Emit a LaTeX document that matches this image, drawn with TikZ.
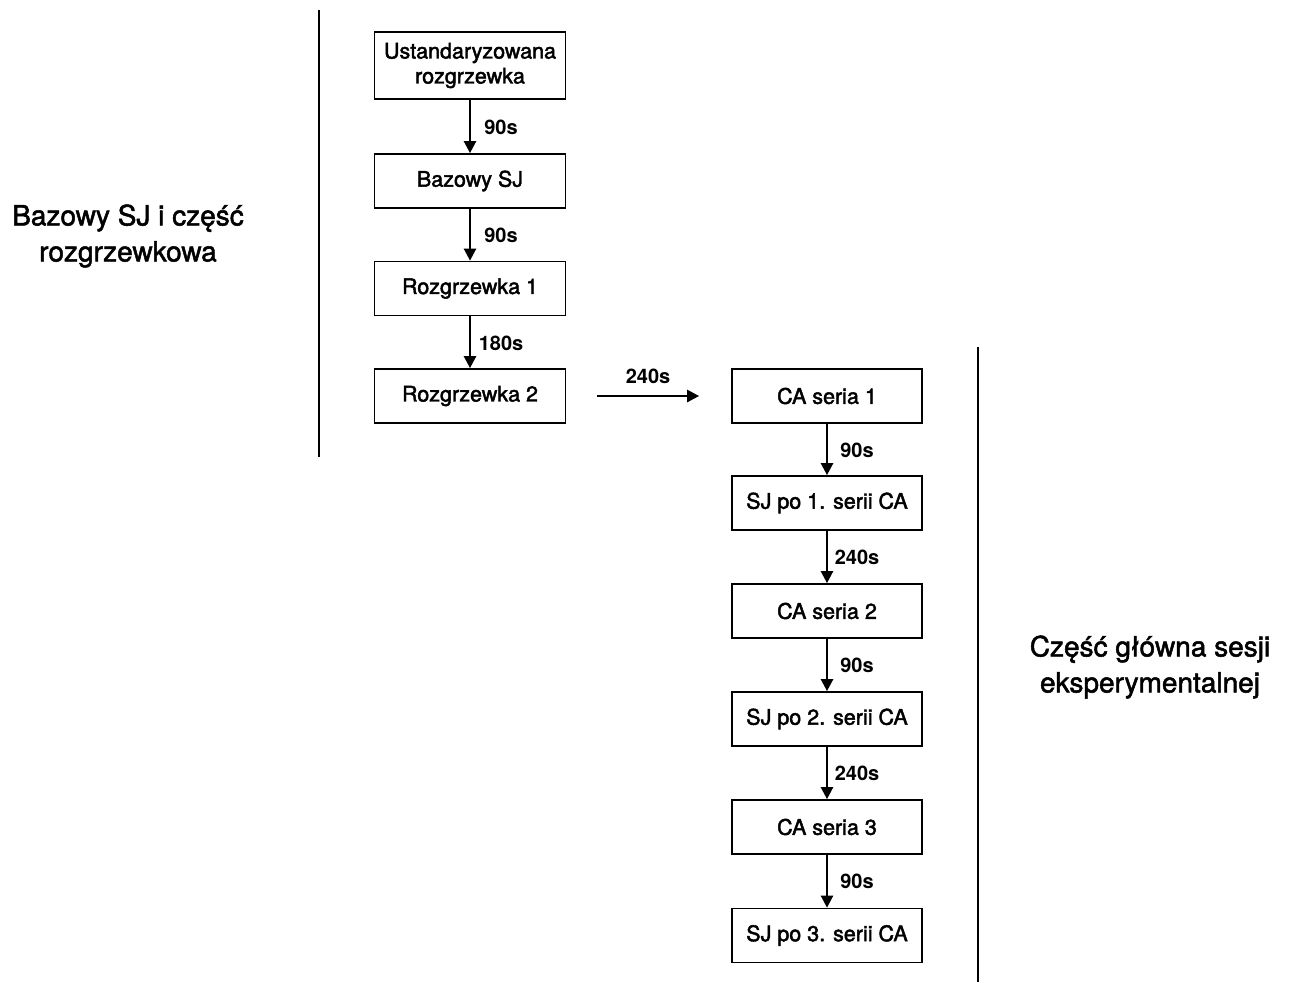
\documentclass[tikz,border=0pt]{standalone}
\usepackage{fontspec}
\setmainfont{TeX Gyre Heros}
\usetikzlibrary{arrows.meta}
% medium-weight text: fill and outline the glyphs with a thin stroke
\newcommand{\medtext}[2][0.45]{\special{pdf:literal direct 2 Tr #1 w}#2\special{pdf:literal direct 0 Tr}}
\begin{document}
\begin{tikzpicture}[x=1pt,y=-1pt,
  stage/.style={draw=black,line width=1.7pt,minimum width=191pt,minimum height=54pt,
    inner sep=0pt,align=center,font=\fontsize{21.5}{25}\selectfont},
  flow/.style={line width=2.4pt,-{Triangle[length=12pt,width=12pt]}},
  gap/.style={font=\bfseries\fontsize{20}{23}\selectfont,inner sep=0pt},
  divider/.style={line width=2.6pt},
  part/.style={align=center,font=\fontsize{28}{36}\selectfont}]
\useasboundingbox (0,0) rectangle (1289,982);

% warm-up column
\node[stage,minimum height=67pt] (uw) at (470,65.5) {\medtext{Ustandaryzowana}\\\medtext{rozgrzewka}};
\node[stage] (bsj) at (470,181) {\medtext{Bazowy SJ}};
\node[stage] (r1) at (470,288.5) {\medtext{Rozgrzewka 1}};
\node[stage] (r2) at (470,396) {\medtext{Rozgrzewka 2}};

% main column
\node[stage,minimum width=190pt] (ca1) at (827,396) {\medtext{CA seria 1}};
\node[stage,minimum width=190pt] (sj1) at (827,503) {\medtext{SJ po 1. serii CA}};
\node[stage,minimum width=190pt] (ca2) at (827,611) {\medtext{CA seria 2}};
\node[stage,minimum width=190pt] (sj2) at (827,719) {\medtext{SJ po 2. serii CA}};
\node[stage,minimum width=190pt] (ca3) at (827,827) {\medtext{CA seria 3}};
\node[stage,minimum width=190pt] (sj3) at (827,935.5) {\medtext{SJ po 3. serii CA}};

% connectors with rest intervals
\draw[flow] (uw) -- (bsj);
\draw[flow] (bsj) -- (r1);
\draw[flow] (r1) -- (r2);
\node[gap] (t1) at (501,127) {90s};
\node[gap] (t2) at (501,235) {90s};
\node[gap] (t3) at (501,343) {180s};

\draw[flow] ([xshift=31pt]r2.east) -- ([xshift=-32pt]ca1.west);
\node[gap] (t4) at (648,376) {240s};

\draw[flow] (ca1) -- (sj1);
\draw[flow] (sj1) -- (ca2);
\draw[flow] (ca2) -- (sj2);
\draw[flow] (sj2) -- (ca3);
\draw[flow] (ca3) -- (sj3);
\node[gap] (t5) at (857,450) {90s};
\node[gap] (t6) at (857,557) {240s};
\node[gap] (t7) at (857,665) {90s};
\node[gap] (t8) at (857,773) {240s};
\node[gap] (t9) at (857,881) {90s};

% section dividers and captions
\coordinate (la) at (319,10);
\coordinate (lb) at (319,457);
\draw[divider] (la) -- (lb);
\coordinate (ra) at (978,347);
\coordinate (rb) at (978,982);
\draw[divider] (ra) -- (rb);

\node[part] (lp) at (128,236) {\medtext[0.5]{Bazowy SJ i część}\\\medtext[0.5]{rozgrzewkowa}};
\node[part] (rp) at (1150,667) {\medtext[0.5]{Część główna sesji}\\\medtext[0.5]{eksperymentalnej}};
\end{tikzpicture}
\end{document}
